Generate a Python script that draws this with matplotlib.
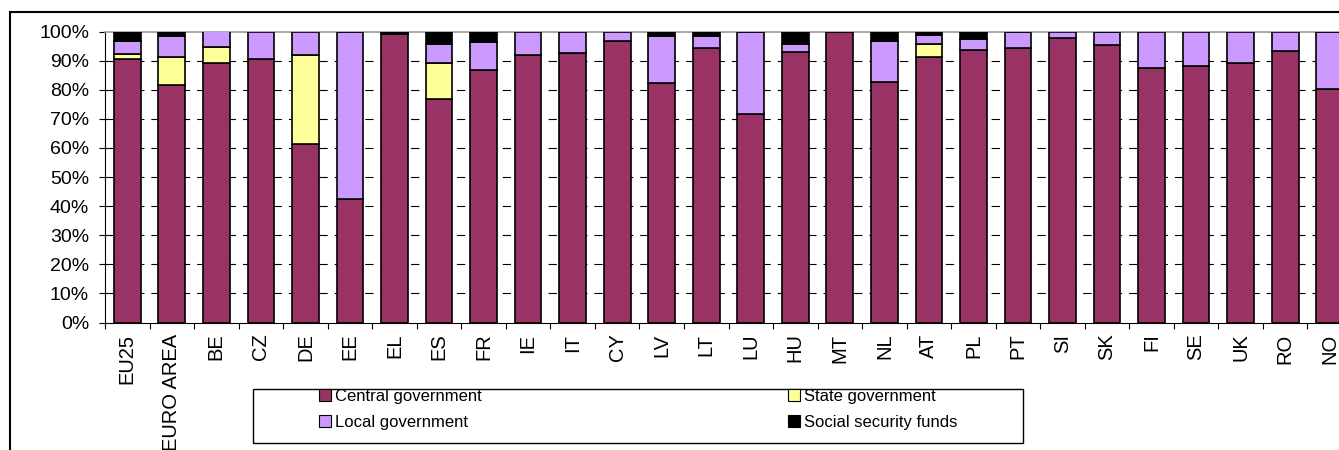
import numpy as np
import matplotlib
matplotlib.use("Agg")
import matplotlib.pyplot as plt
from matplotlib.patches import Rectangle, Patch

plt.rcParams['font.family'] = ['Liberation Sans', 'DejaVu Sans']
plt.rcParams['lines.scale_dashes'] = False

categories = ['EU25', 'EURO AREA', 'BE', 'CZ', 'DE', 'EE', 'EL', 'ES', 'FR', 'IE',
              'IT', 'CY', 'LV', 'LT', 'LU', 'HU', 'MT', 'NL', 'AT', 'PL',
              'PT', 'SI', 'SK', 'FI', 'SE', 'UK', 'RO', 'NO']
central = [90.5, 81.5, 89.2, 90.6, 61.2, 42.6, 99.0, 76.7, 86.6, 92.0,
           92.6, 96.6, 82.2, 94.4, 71.6, 93.1, 100.0, 82.8, 91.1, 93.8,
           94.4, 97.8, 95.3, 87.3, 88.0, 89.3, 93.2, 80.1]
state = [1.8, 9.7, 5.4, 0, 30.8, 0, 0, 12.4, 0, 0,
         0, 0, 0, 0, 0, 0, 0, 0, 4.7, 0,
         0, 0, 0, 0, 0, 0, 0, 0]
local = [4.6, 7.2, 5.4, 9.4, 8.0, 57.4, 0, 6.7, 9.7, 8.0,
         7.4, 3.4, 16.1, 3.9, 28.4, 2.5, 0, 14.1, 3.0, 3.7,
         5.6, 2.2, 4.7, 12.7, 12.0, 10.7, 6.8, 19.9]
social = [3.1, 1.6, 0, 0, 0, 0, 1.0, 4.2, 3.7, 0,
          0, 0, 1.7, 1.7, 0, 4.4, 0, 3.1, 1.2, 2.5,
          0, 0, 0, 0, 0, 0, 0, 0]

series = [
    ('Central government', central, '#993366'),
    ('State government', state, '#FFFF99'),
    ('Local government', local, '#CC99FF'),
    ('Social security funds', social, '#000000'),
]

W, H = 1339, 450
fig = plt.figure(figsize=(W / 100, H / 100), dpi=100)
# plot area (in pixels, converted to figure fractions)
left, right, top, bottom = 105, 1352, 31.5, 322.5
ax = fig.add_axes([left / W, 1 - bottom / H, (right - left) / W, (bottom - top) / H])

x = np.arange(len(categories))
base = np.zeros(len(categories))
for name, vals, color in series:
    vals = np.array(vals, dtype=float)
    ax.bar(x, vals, bottom=base, width=0.6, color=color, edgecolor='black',
           linewidth=1.2, zorder=3)
    base += vals

ax.set_xlim(-0.5, len(categories) - 0.5)
ax.set_ylim(0, 100)
ax.set_yticks(np.arange(0, 101, 10))
ax.set_yticklabels([f'{v}%' for v in range(0, 101, 10)], fontsize=14)
ax.set_xticks(x)
ax.set_xticklabels(categories, rotation=90, fontsize=14.5)
ax.set_xticks(np.arange(-0.5, len(categories)), minor=True)
ax.tick_params(axis='x', which='major', length=0, pad=8)
ax.tick_params(axis='x', which='minor', length=4.5, width=0.8, direction='out')
ax.tick_params(axis='y', length=4.5, width=0.8, direction='out', pad=7)

# dashed gridlines
for v in range(10, 100, 10):
    ax.axhline(v, color='black', linewidth=0.8, dashes=(6, 5), zorder=1)

ax.spines['right'].set_visible(False)
ax.spines['top'].set_color('#999999')
ax.spines['top'].set_linewidth(1.2)
ax.spines['left'].set_linewidth(0.8)
ax.spines['bottom'].set_linewidth(0.8)

# outer chart frame (partly visible)
fig.patches.append(Rectangle((10 / W, -0.1), 1.2, 1.1 - 12 / H, transform=fig.transFigure,
                             fill=False, edgecolor='black', linewidth=1.5))

# legend box
fig.patches.append(Rectangle((253 / W, 1 - 443 / H), (1023 - 253) / W, (443 - 389) / H,
                             transform=fig.transFigure, fill=False,
                             edgecolor='black', linewidth=1.0))

order = [0, 2, 1, 3]
handles = [Patch(facecolor=series[i][2], edgecolor='black', linewidth=0.8) for i in order]
labels = [series[i][0] for i in order]
fig.legend(handles, labels, loc='upper left', bbox_to_anchor=(319 / W, 1 - 389 / H),
           ncol=2, frameon=False, fontsize=12, handlelength=0.7, handleheight=0.7,
           handletextpad=0.25, columnspacing=18.4, labelspacing=0.65, borderpad=0,
           borderaxespad=0)

fig.savefig('out.png', dpi=100)
